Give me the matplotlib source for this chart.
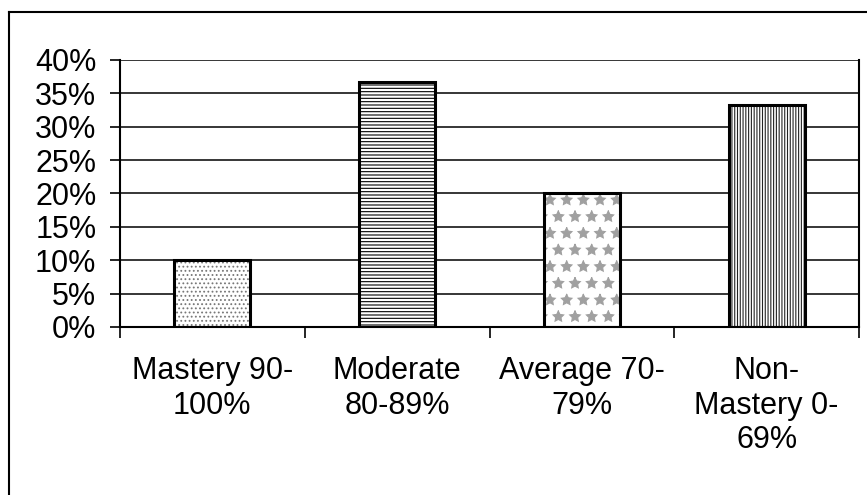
import matplotlib
matplotlib.use("Agg")
from matplotlib import pyplot as plt
from matplotlib.lines import Line2D
from matplotlib.ticker import PercentFormatter

categories = ["Mastery 90-\n100%", "Moderate\n80-89%", "Average 70-\n79%", "Non-\nMastery 0-\n69%"]
values = [10.0, 36.7, 20.0, 33.3]
hatches = ["....", "-----", "*", "||||||"]
hatch_colors = ["#777777", "#000000", "#a0a0a0", "#222222"]


def main():
    plt.rcParams['font.family'] = ['Liberation Sans', 'DejaVu Sans']
    plt.rcParams['hatch.linewidth'] = 0.8
    fig = plt.figure(figsize=(8.67, 4.95), dpi=100)
    ax = fig.add_axes([0.1384, 0.3394, 0.8524, 0.5394])

    x = range(len(values))
    # hatched fill first, then black outline on top
    ax.bar(x, values, width=0.41, color="white", edgecolor=hatch_colors,
           hatch=hatches, linewidth=0, zorder=2)
    ax.bar(x, values, width=0.41, fill=False, edgecolor="black",
           linewidth=2.2, zorder=3)

    ax.set_ylim(0, 40)
    ax.set_xlim(-0.5, len(values) - 0.5)
    ax.set_yticks(range(0, 41, 5))
    ax.yaxis.set_major_formatter(PercentFormatter(decimals=0))
    ax.yaxis.grid(True, color="black", linewidth=1.1, zorder=0)
    ax.set_axisbelow(True)

    ax.set_xticks([i - 0.5 for i in range(len(values) + 1)], minor=False)
    ax.set_xticklabels([])
    ax.set_xticks(list(x), minor=True)
    ax.set_xticklabels(categories, minor=True)
    ax.tick_params(axis="x", which="minor", length=0, pad=21, labelsize=22)
    ax.tick_params(axis="x", which="major", length=8, width=1.2, direction="out")
    ax.tick_params(axis="y", length=7, width=1.2, pad=10, labelsize=22)

    for s in ["left", "bottom", "right"]:
        ax.spines[s].set_linewidth(1.5)
    ax.spines["top"].set_visible(False)

    # outer chart frame (cut off at right and bottom)
    fig.add_artist(Line2D([0.0104, 0.0104], [0.0, 0.9758], color="black", linewidth=1.5))
    fig.add_artist(Line2D([0.0104, 1.0], [0.9758, 0.9758], color="black", linewidth=1.5))

    plt.savefig("out.png", dpi=100)


if __name__ == "__main__":
    main()
